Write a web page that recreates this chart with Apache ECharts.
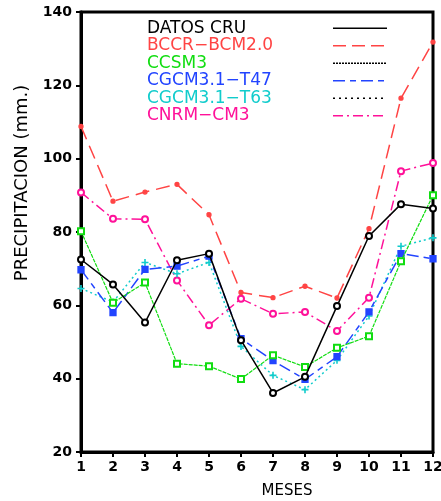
<!DOCTYPE html>
<html><head><meta charset="utf-8">
<script src="https://cdn.jsdelivr.net/npm/echarts@6/dist/echarts.min.js"></script>
<style>html,body{margin:0;padding:0;background:#fff}#c{width:441px;height:501px}</style>
</head><body><div id="c"></div>
<script>
const months = [1,2,3,4,5,6,7,8,9,10,11,12];
const yTicks = [20,40,60,80,100,120,140];
const names = ['DATOS CRU','BCCR\u2212BCM2.0','CCSM3','CGCM3.1\u2212T47','CGCM3.1\u2212T63','CNRM\u2212CM3'];
const datosCRU = [72.5, 65.7, 55.3, 72.3, 74.1, 50.5, 36.1, 40.5, 59.8, 78.9, 87.6, 86.4];
const bccrBcm2 = [108.8, 88.4, 90.9, 93.0, 84.7, 63.5, 62.1, 65.2, 62.0, 80.9, 116.5, 131.8];
const ccsm3 = [80.2, 60.7, 66.2, 44.1, 43.4, 39.9, 46.4, 43.2, 48.4, 51.6, 72.0, 90.0];
const cgcmT47 = [69.7, 58.0, 69.8, 70.7, 73.4, 50.9, 44.9, 39.8, 46.0, 58.2, 74.1, 72.7];
const cgcmT63 = [64.6, 60.9, 71.7, 68.6, 71.7, 48.8, 40.9, 37.0, 45.0, 57.1, 76.1, 78.4];
const cnrmCm3 = [90.8, 83.6, 83.5, 66.8, 54.6, 61.8, 57.7, 58.2, 53.0, 62.1, 96.6, 98.8];

const colors = ['#000000','#ff4444','#11dd11','#2244ff','#11cccc','#ff1199'];
const values = [datosCRU, bccrBcm2, ccsm3, cgcmT47, cgcmT63, cnrmCm3];
const dashes = ['solid',[14,7],[4,1],[12,5,6,5],[2,3],[10,4,2,4]];
const widths = [1.5,1.5,1.2,1.5,1.5,1.5];
const symbols = ['emptyCircle','circle','emptyRect','rect','path://M0,-1L0,1M-1,0L1,0','emptyCircle'];
const symSizes = [6,4,6,6,7,6];

const pair = arr => months.map((m,i)=>[m,arr[i]]);

const series = names.map((n,i)=>({
  name:n, type:'line', data:pair(values[i]),
  symbol:symbols[i], symbolSize:symSizes[i], showSymbol:true,
  lineStyle:{color:colors[i], width:widths[i], type:dashes[i]},
  itemStyle:{color:colors[i], borderColor:colors[i], borderWidth: i===4 ? 1.6 : 1.3},
  emphasis:{disabled:true}, animation:false, z: 10-i
}));

const legendLineColors = ['#000000','#ff4444','#000000','#2244ff','#000000','#ff1199'];
const legendDashes = ['solid',[13,6],[2,1],[12,5,6,5],[2,4],[10,4,2,4]];

const chart = echarts.init(document.getElementById('c'), null, {renderer:'canvas'});
chart.setOption({
  animation:false,
  backgroundColor:'#fff',
  grid:{left:81, right:8, top:12, bottom:49, outerBoundsMode:'none', containLabel:false,
    show:true, borderColor:'#000', borderWidth:3, backgroundColor:'transparent'},
  xAxis:{type:'value', min:1, max:12, interval:1,
    axisLine:{show:true, lineStyle:{color:'#000', width:3}},
    axisTick:{show:true, inside:false, length:5, lineStyle:{color:'#000', width:2}},
    splitLine:{show:false},
    axisLabel:{margin:8, color:'#000', fontFamily:'DejaVu Sans', fontWeight:'bold', fontSize:14,
      formatter:v=>String(v)}
  },
  yAxis:{type:'value', min:yTicks[0], max:yTicks[yTicks.length-1], interval:20,
    axisLine:{show:true, lineStyle:{color:'#000', width:3}},
    axisTick:{show:true, inside:false, length:5, lineStyle:{color:'#000', width:2}},
    splitLine:{show:false},
    axisLabel:{margin:9, color:'#000', fontFamily:'DejaVu Sans', fontWeight:'bold', fontSize:14}
  },
  legend:{
    orient:'vertical', align:'right', left:147, top:19.5, padding:0,
    itemWidth:54, itemHeight:12, itemGap:0,
    selectedMode:false,
    itemStyle:{opacity:0},
    data:names.map((n,i)=>({name:n, textStyle:{color:colors[i]},
      lineStyle:{color:legendLineColors[i], type:legendDashes[i], width:1.5}})),
    formatter:n=>'{t|'+n+'}',
    textStyle:{fontFamily:'DejaVu Sans', fontSize:17,
      rich:{t:{width:181, height:17.5, lineHeight:17.5, align:'left', fontFamily:'DejaVu Sans', fontSize:17}}}
  },
  graphic:[
    {type:'text', x:22.5, y:183, rotation:Math.PI/2,
      style:{text:'PRECIPITACION (mm.)', fill:'#000', font:'18px "DejaVu Sans"', align:'center', verticalAlign:'middle'}},
    {type:'text', x:287, y:491,
      style:{text:'MESES', fill:'#000', font:'15px "DejaVu Sans"', align:'center', verticalAlign:'middle'}}
  ],
  series:series
});
</script></body></html>
